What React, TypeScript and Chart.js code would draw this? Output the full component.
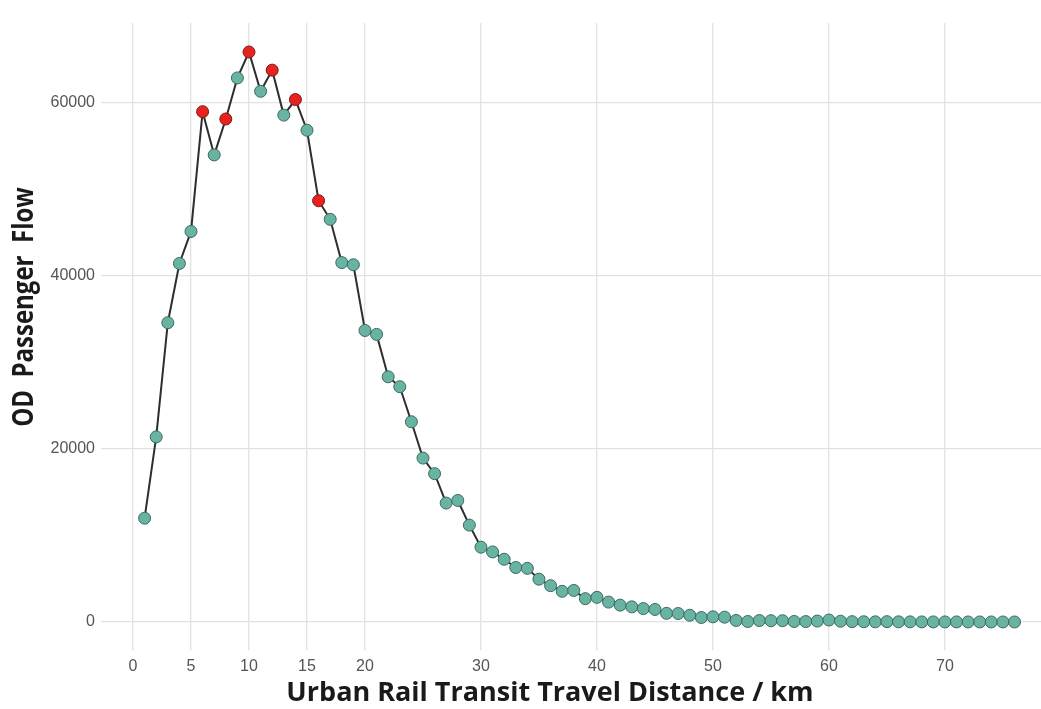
import React, { useEffect, useRef } from "react";
import { Chart, registerables } from "chart.js";

Chart.register(...registerables);

const distances = [
  1, 2, 3, 4, 5, 6, 7, 8, 9, 10, 11, 12, 13, 14, 15, 16, 17, 18, 19, 20,
  21, 22, 23, 24, 25, 26, 27, 28, 29, 30, 31, 32, 33, 34, 35, 36, 37, 38, 39, 40,
  41, 42, 43, 44, 45, 46, 47, 48, 49, 50, 51, 52, 53, 54, 55, 56, 57, 58, 59, 60,
  61, 62, 63, 64, 65, 66, 67, 68, 69, 70, 71, 72, 73, 74, 75, 76,
];

const flows = [
  12000, 21400, 34600, 41450, 45150, 59000, 54000, 58150, 62900, 65900,
  61350, 63800, 58600, 60400, 56850, 48700, 46550, 41550, 41300, 33700,
  33250, 28350, 27200, 23150, 18950, 17150, 13750, 14050, 11200, 8650,
  8100, 7250, 6300, 6200, 4950, 4200, 3550, 3650, 2700, 2850,
  2300, 1950, 1750, 1550, 1450, 1000, 980, 780, 520, 600,
  560, 180, 60, 170, 150, 150, 60, 50, 110, 230,
  90, 40, 30, 20, 40, 20, 15, 10, 10, 10,
  8, 6, 5, 5, 4, 3,
];

const highlighted = [6, 8, 10, 12, 14, 16];

const xTicks = [0, 5, 10, 15, 20, 30, 40, 50, 60, 70];
const yTicks = [0, 20000, 40000, 60000];

const xTitle = "Urban Rail Transit Travel Distance / km";
const yTitle = "OD  Passenger  Flow";

const TEAL = "#69b3a2";
const RED = "#e8221f";
const TITLE_FONT = "'Open Sans', 'Noto Sans', sans-serif";

const titlePlugin = {
  id: "axisTitles",
  afterDraw(chart: any) {
    const ctx = chart.ctx as CanvasRenderingContext2D;
    ctx.save();
    ctx.fillStyle = "#1a1a1a";
    ctx.textAlign = "center";
    ctx.textBaseline = "middle";
    ctx.font = `bold 27px ${TITLE_FONT}`;
    ctx.fillText(xTitle, 550, 693);
    ctx.restore();

    ctx.save();
    ctx.fillStyle = "#1a1a1a";
    ctx.textAlign = "center";
    ctx.textBaseline = "middle";
    ctx.translate(25, 307);
    ctx.rotate(-Math.PI / 2);
    ctx.scale(1, 1.2);
    ctx.font = `bold 24px ${TITLE_FONT}`;
    ctx.fillText(yTitle, 0, 0);
    ctx.restore();
  },
};

export default function App() {
  const canvasRef = useRef<HTMLCanvasElement | null>(null);

  useEffect(() => {
    const canvas = canvasRef.current;
    if (!canvas) return;
    const points = distances.map((d, i) => ({ x: d, y: flows[i] }));
    const fills = distances.map((d) => (highlighted.includes(d) ? RED : TEAL));
    const borders = distances.map((d) =>
      highlighted.includes(d) ? "#7a1a18" : "#3b6a5f"
    );

    const chart = new Chart(canvas, {
      type: "line",
      data: {
        datasets: [
          {
            data: points,
            borderColor: "#2e2e2e",
            borderWidth: 2,
            pointRadius: 6,
            pointHoverRadius: 6,
            pointBackgroundColor: fills,
            pointBorderColor: borders,
            pointBorderWidth: 1,
            tension: 0,
            clip: false as any,
          },
        ],
      },
      options: {
        responsive: false,
        animation: false,
        layout: { padding: { top: 23, right: 0, left: 0, bottom: 0 } },
        plugins: {
          legend: { display: false },
          tooltip: { enabled: false },
        },
        scales: {
          x: {
            type: "linear",
            min: -2.76,
            max: 78.37,
            afterBuildTicks: (scale: any) => {
              scale.ticks = xTicks.map((v) => ({ value: v }));
            },
            afterFit: (scale: any) => {
              scale.height = 59;
            },
            grid: {
              color: "#e2e2e2",
              lineWidth: 1.3,
              drawTicks: false,
            },
            border: { display: false },
            ticks: {
              padding: 7,
              color: "#555555",
              font: { family: "'Liberation Sans', Arial, sans-serif", size: 16 },
              callback: (v: any) => String(v),
            },
          },
          y: {
            type: "linear",
            min: -3237,
            max: 69249,
            afterBuildTicks: (scale: any) => {
              scale.ticks = yTicks.map((v) => ({ value: v }));
            },
            afterFit: (scale: any) => {
              scale.width = 101;
            },
            grid: {
              color: "#e2e2e2",
              lineWidth: 1.3,
              drawTicks: false,
            },
            border: { display: false },
            ticks: {
              padding: 6,
              color: "#555555",
              font: { family: "'Liberation Sans', Arial, sans-serif", size: 16 },
              callback: (v: any) => String(v),
            },
          },
        },
      },
      plugins: [titlePlugin],
    });
    return () => chart.destroy();
  }, []);

  return (
    <div
      style={{
        position: "fixed",
        left: 0,
        top: 0,
        width: 1041,
        height: 709,
        overflow: "hidden",
        background: "#ffffff",
      }}
    >
      <canvas ref={canvasRef} width={1049} height={709} style={{ display: "block" }} />
    </div>
  );
}
